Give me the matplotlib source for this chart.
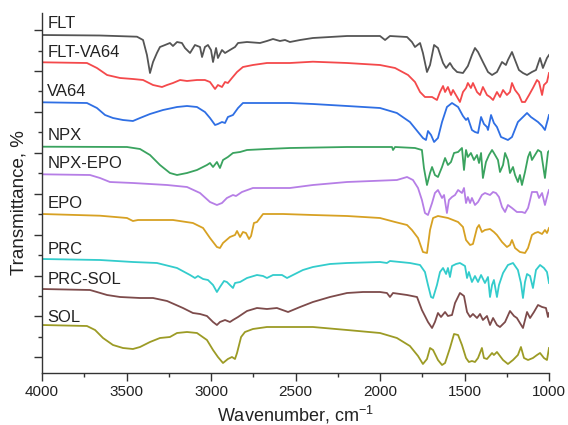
import matplotlib
matplotlib.use("Agg")
import matplotlib.pyplot as plt
from matplotlib.ticker import MultipleLocator, FixedLocator

plt.rcParams['font.family'] = ['Liberation Sans', 'DejaVu Sans']
plt.rcParams['mathtext.fontset'] = 'custom'
plt.rcParams['mathtext.rm'] = 'Liberation Sans'
plt.rcParams['mathtext.it'] = 'Liberation Sans:italic'
plt.rcParams['mathtext.default'] = 'regular'

# ---- data: wavenumber (cm-1) and stacked transmittance (a.u.) ----
labels = ["FLT", "FLT-VA64", "VA64", "NPX", "NPX-EPO", "EPO", "PRC", "PRC-SOL", "SOL"]

FLT = [(4000, 337), (3657, 336.5), (3438, 335.3), (3402, 332), (3379, 317), (3361, 299), (3343, 310),
       (3320, 319), (3302, 325), (3272, 327), (3243, 329), (3225, 326), (3201, 330), (3172, 329),
       (3154, 324), (3124, 319), (3095, 327), (3065, 325), (3053, 315), (3036, 325), (3018, 327),
       (3000, 322), (2988, 310), (2970, 324), (2959, 314), (2935, 322), (2917, 319), (2888, 322),
       (2858, 325), (2840, 329), (2787, 330), (2710, 329), (2669, 331), (2633, 333), (2592, 331),
       (2562, 332), (2533, 330), (2473, 332), (2397, 334), (2195, 336), (2000, 336), (1970, 332),
       (1941, 336), (1840, 335), (1811, 330), (1793, 325), (1763, 329), (1746, 319), (1722, 300),
       (1704, 307), (1680, 327), (1657, 324), (1627, 309), (1609, 304), (1586, 309), (1568, 304),
       (1544, 300), (1509, 299), (1480, 306), (1456, 317), (1438, 324), (1420, 320), (1391, 310),
       (1361, 300), (1337, 297), (1308, 300), (1278, 310), (1255, 307), (1243, 312), (1219, 320),
       (1201, 312), (1178, 302), (1154, 299), (1130, 297), (1101, 300), (1077, 302), (1053, 314),
       (1036, 304), (1012, 314), (1000, 317)]

FLT_VA64 = [(4000, 309.7), (3734, 309), (3675, 304), (3615, 297), (3538, 294), (3462, 293), (3402, 292),
            (3343, 287), (3290, 285), (3260, 287), (3225, 289), (3183, 292), (3142, 291), (3083, 292),
            (3036, 292), (3006, 290), (2976, 283), (2959, 287), (2935, 285), (2917, 290), (2900, 289),
            (2876, 294), (2846, 300), (2811, 305), (2752, 307), (2669, 309), (2533, 309), (2397, 310.3),
            (2195, 309), (2000, 307), (1911, 304), (1834, 297), (1793, 290), (1763, 280), (1734, 275),
            (1692, 275), (1663, 272), (1645, 280), (1627, 286), (1615, 280), (1598, 285), (1580, 277),
            (1568, 282), (1544, 275), (1527, 270), (1509, 280), (1491, 284), (1480, 289), (1462, 284),
            (1450, 289), (1426, 280), (1408, 277), (1391, 285), (1367, 277), (1349, 275), (1331, 272),
            (1308, 280), (1290, 275), (1272, 282), (1249, 277), (1231, 280), (1219, 289), (1201, 282),
            (1178, 277), (1160, 270), (1142, 270), (1118, 277), (1095, 284), (1071, 292), (1059, 290),
            (1041, 277), (1030, 287), (1012, 290), (1000, 299)]

VA64 = [(4000, 269.7), (3734, 269), (3675, 264), (3627, 257), (3580, 254), (3521, 252), (3462, 251),
        (3420, 254), (3361, 258), (3284, 262), (3201, 265), (3142, 266), (3083, 265), (3036, 260),
        (3006, 254), (2976, 247), (2959, 248), (2935, 250), (2917, 249), (2900, 255), (2870, 257),
        (2840, 264), (2811, 269), (2669, 269), (2533, 269), (2397, 268), (2195, 266), (2000, 264),
        (1900, 259), (1823, 250), (1775, 240), (1746, 234), (1728, 232), (1716, 241), (1698, 237),
        (1680, 230), (1657, 234), (1633, 250), (1604, 265), (1574, 269), (1538, 265), (1509, 256),
        (1491, 252), (1480, 254), (1456, 242), (1438, 240), (1420, 239), (1402, 255), (1385, 248),
        (1367, 245), (1361, 242), (1343, 257), (1326, 249), (1308, 245), (1284, 235), (1243, 232),
        (1219, 235), (1184, 250), (1154, 255), (1130, 259), (1107, 255), (1065, 250), (1041, 246),
        (1024, 242), (1000, 257)]

NPX = [(4000, 225.3), (3497, 225), (3420, 223), (3361, 217), (3302, 207), (3243, 199), (3201, 197),
       (3142, 199), (3083, 202), (3024, 207), (3006, 209), (2988, 205), (2965, 210), (2947, 204),
       (2929, 212), (2900, 215), (2870, 219), (2828, 220), (2787, 222), (2669, 223), (2533, 224),
       (2195, 225), (1929, 225), (1923, 222), (1911, 225), (1793, 224), (1752, 222), (1740, 204),
       (1722, 187), (1704, 199), (1692, 205), (1675, 197), (1657, 195), (1633, 205), (1615, 214),
       (1598, 207), (1580, 210), (1562, 219), (1538, 220), (1515, 224), (1503, 202), (1491, 222),
       (1480, 215), (1462, 219), (1444, 212), (1426, 217), (1414, 209), (1402, 219), (1391, 194),
       (1373, 210), (1355, 217), (1337, 222), (1326, 219), (1302, 212), (1290, 200), (1272, 207),
       (1260, 219), (1243, 212), (1231, 199), (1213, 205), (1201, 197), (1184, 190), (1172, 197),
       (1160, 187), (1142, 200), (1124, 215), (1112, 220), (1101, 212), (1083, 217), (1065, 222),
       (1047, 220), (1024, 194), (1006, 220), (1000, 221)]

NPX_EPO = [(4000, 197.7), (3716, 197), (3657, 194), (3598, 190), (3462, 189), (3260, 187), (3142, 185),
           (3065, 179), (3006, 170), (2965, 167), (2935, 169), (2906, 174), (2870, 177), (2852, 176),
           (2817, 180), (2752, 184), (2533, 184), (2397, 187), (2195, 190), (1900, 192), (1840, 195),
           (1805, 192), (1775, 184), (1752, 172), (1734, 159), (1716, 157), (1692, 169), (1675, 179),
           (1657, 182), (1633, 174), (1621, 177), (1604, 159), (1592, 172), (1574, 175), (1556, 177),
           (1538, 182), (1515, 179), (1503, 184), (1491, 169), (1480, 175), (1467, 169), (1456, 174),
           (1438, 167), (1420, 170), (1397, 177), (1379, 179), (1349, 177), (1331, 180), (1314, 179),
           (1296, 175), (1278, 165), (1260, 160), (1243, 167), (1219, 164), (1190, 160), (1160, 160),
           (1142, 159), (1124, 164), (1112, 172), (1101, 180), (1071, 180), (1059, 174), (1041, 179),
           (1024, 167), (1006, 179), (1000, 182)]

EPO = [(4000, 158), (3657, 156.3), (3497, 154), (3462, 151), (3432, 152), (3225, 152), (3107, 149),
       (3047, 144), (3006, 134), (2965, 125), (2947, 124), (2929, 129), (2888, 135), (2858, 137),
       (2846, 141), (2828, 135), (2811, 140), (2793, 139), (2775, 133), (2763, 136), (2746, 149),
       (2728, 150), (2692, 158), (2574, 158), (2397, 157), (2195, 156), (2000, 154), (1911, 150),
       (1840, 147), (1811, 142), (1775, 134), (1746, 120), (1722, 119), (1704, 142), (1686, 154),
       (1657, 156), (1598, 154), (1538, 150), (1509, 145), (1491, 132), (1467, 127), (1450, 128),
       (1426, 144), (1414, 147), (1397, 140), (1379, 142), (1349, 143), (1326, 140), (1308, 137),
       (1278, 130), (1249, 125), (1231, 127), (1219, 132), (1201, 124), (1172, 120), (1142, 119),
       (1124, 124), (1101, 137), (1083, 139), (1065, 140), (1041, 138), (1024, 142), (1012, 139),
       (1000, 144)]

PRC = [(4000, 113), (3657, 112), (3462, 110), (3320, 109), (3201, 104), (3124, 97), (3095, 94),
       (3077, 96), (3047, 93), (3018, 92), (2988, 87), (2965, 80), (2947, 85), (2923, 91), (2906, 90),
       (2888, 87), (2870, 84), (2858, 89), (2828, 90), (2787, 94), (2728, 97), (2692, 96), (2669, 94),
       (2633, 97), (2580, 97), (2550, 94), (2515, 97), (2456, 102), (2397, 105), (2296, 108),
       (2195, 109), (2000, 110), (1959, 109), (1941, 111), (1823, 109), (1763, 107), (1734, 100),
       (1716, 87), (1698, 75), (1686, 74), (1663, 87), (1645, 100), (1627, 104), (1609, 98), (1598, 104),
       (1586, 95), (1574, 106), (1550, 108), (1527, 109), (1497, 106), (1485, 94), (1474, 100),
       (1456, 90), (1438, 96), (1420, 90), (1402, 97), (1379, 89), (1361, 95), (1349, 75), (1337, 87),
       (1326, 92), (1308, 75), (1296, 87), (1272, 99), (1243, 107), (1213, 109), (1184, 102),
       (1166, 89), (1154, 74), (1142, 90), (1130, 98), (1112, 96), (1095, 84), (1077, 102), (1053, 107),
       (1030, 104), (1012, 100), (1000, 89)]

PRC_SOL = [(4000, 83), (3716, 82), (3675, 80), (3615, 77), (3538, 75), (3420, 74), (3343, 74), (3260, 71),
           (3166, 64), (3107, 59), (3065, 58), (3024, 56), (2988, 50), (2965, 47), (2947, 50), (2917, 52),
           (2888, 50), (2870, 52), (2840, 55), (2787, 61), (2728, 64), (2669, 63), (2610, 64), (2544, 60),
           (2473, 65), (2397, 70), (2296, 75), (2195, 79), (2101, 80), (2000, 80), (1959, 79), (1941, 75),
           (1923, 79), (1840, 77), (1781, 75), (1752, 62), (1716, 50), (1692, 44), (1675, 50), (1657, 59),
           (1639, 55), (1615, 60), (1598, 56), (1574, 57), (1556, 69), (1527, 79), (1503, 76), (1485, 60),
           (1467, 55), (1450, 58), (1426, 54), (1408, 58), (1391, 52), (1367, 56), (1349, 47), (1331, 54),
           (1308, 47), (1290, 45), (1260, 50), (1231, 61), (1207, 56), (1190, 54), (1172, 49), (1154, 44),
           (1130, 60), (1112, 54), (1089, 60), (1065, 67), (1041, 65), (1018, 64), (1006, 55), (1000, 59)]

SOL = [(4000, 47), (3734, 46), (3686, 42), (3639, 34), (3580, 27), (3521, 24), (3462, 23), (3420, 25),
       (3361, 30), (3302, 34), (3243, 35), (3201, 39), (3142, 40), (3083, 39), (3024, 32), (2988, 22),
       (2959, 15), (2929, 9), (2900, 13), (2876, 15), (2858, 13), (2846, 19), (2822, 35), (2799, 40),
       (2752, 43), (2669, 45), (2533, 45), (2397, 45), (2195, 42), (2000, 39), (1900, 34), (1823, 26),
       (1775, 16), (1746, 8), (1722, 13), (1704, 24), (1686, 22), (1657, 12), (1633, 7), (1615, 9),
       (1586, 24), (1562, 38), (1538, 37), (1515, 27), (1491, 14), (1474, 10), (1456, 11), (1438, 10),
       (1420, 14), (1397, 24), (1385, 14), (1367, 13), (1337, 19), (1326, 17), (1308, 20), (1290, 16),
       (1272, 12), (1243, 8), (1213, 12), (1184, 17), (1166, 25), (1148, 14), (1124, 12), (1095, 14),
       (1071, 17), (1053, 19), (1030, 14), (1012, 12), (1000, 24)]

spectra = [FLT, FLT_VA64, VA64, NPX, NPX_EPO, EPO, PRC, PRC_SOL, SOL]
colors = ["#555555", "#f4494b", "#2f6fe4", "#3aa35f", "#b67ee6", "#d7a123", "#33cccc", "#7d4b4b", "#9c9b25"]
label_y = [348, 319.5, 281, 236, 208, 168, 122, 92, 54]

fig = plt.figure(figsize=(5.68, 4.25), dpi=100)
ax = fig.add_axes([42 / 568, 52.5 / 425, 507 / 568, 359.5 / 425])

for spec, col in zip(spectra, colors):
    xs = [p[0] for p in spec]
    ys = [p[1] for p in spec]
    ax.plot(xs, ys, color=col, lw=1.3, solid_joinstyle='round')

for lab, ly in zip(labels, label_y):
    ax.text(3968, ly, lab, fontsize=12, va='center', ha='left', color='#222222')

ax.set_xlim(4000, 1000)
ax.set_ylim(-0.5, 359)
ax.xaxis.set_major_locator(MultipleLocator(500))
ax.xaxis.set_minor_locator(MultipleLocator(250))
major_y = [14.7 + 40.9 * k for k in range(9)]
minor_y = [35.15 + 40.9 * k for k in range(8)]
ax.yaxis.set_major_locator(FixedLocator(major_y))
ax.yaxis.set_minor_locator(FixedLocator(minor_y))
ax.set_yticklabels([])
ax.tick_params(axis='both', which='major', direction='out', length=6, width=1.0, color='#333333')
ax.tick_params(axis='both', which='minor', direction='out', length=3, width=1.0, color='#333333')
ax.tick_params(axis='x', labelsize=11, pad=3, labelcolor='#222222')

for s in ['top', 'right']:
    ax.spines[s].set_visible(False)
for s in ['left', 'bottom']:
    ax.spines[s].set_linewidth(1.0)
    ax.spines[s].set_color('#333333')

ax.set_xlabel("Wavenumber, cm$^{-1}$", fontsize=13, color='#222222')
ax.xaxis.set_label_coords(0.5, -0.088)
ax.set_ylabel("Transmittance, %", fontsize=13.5, color='#222222')
ax.yaxis.set_label_coords(-0.028, 0.474)

fig.savefig("out.png", dpi=100)
